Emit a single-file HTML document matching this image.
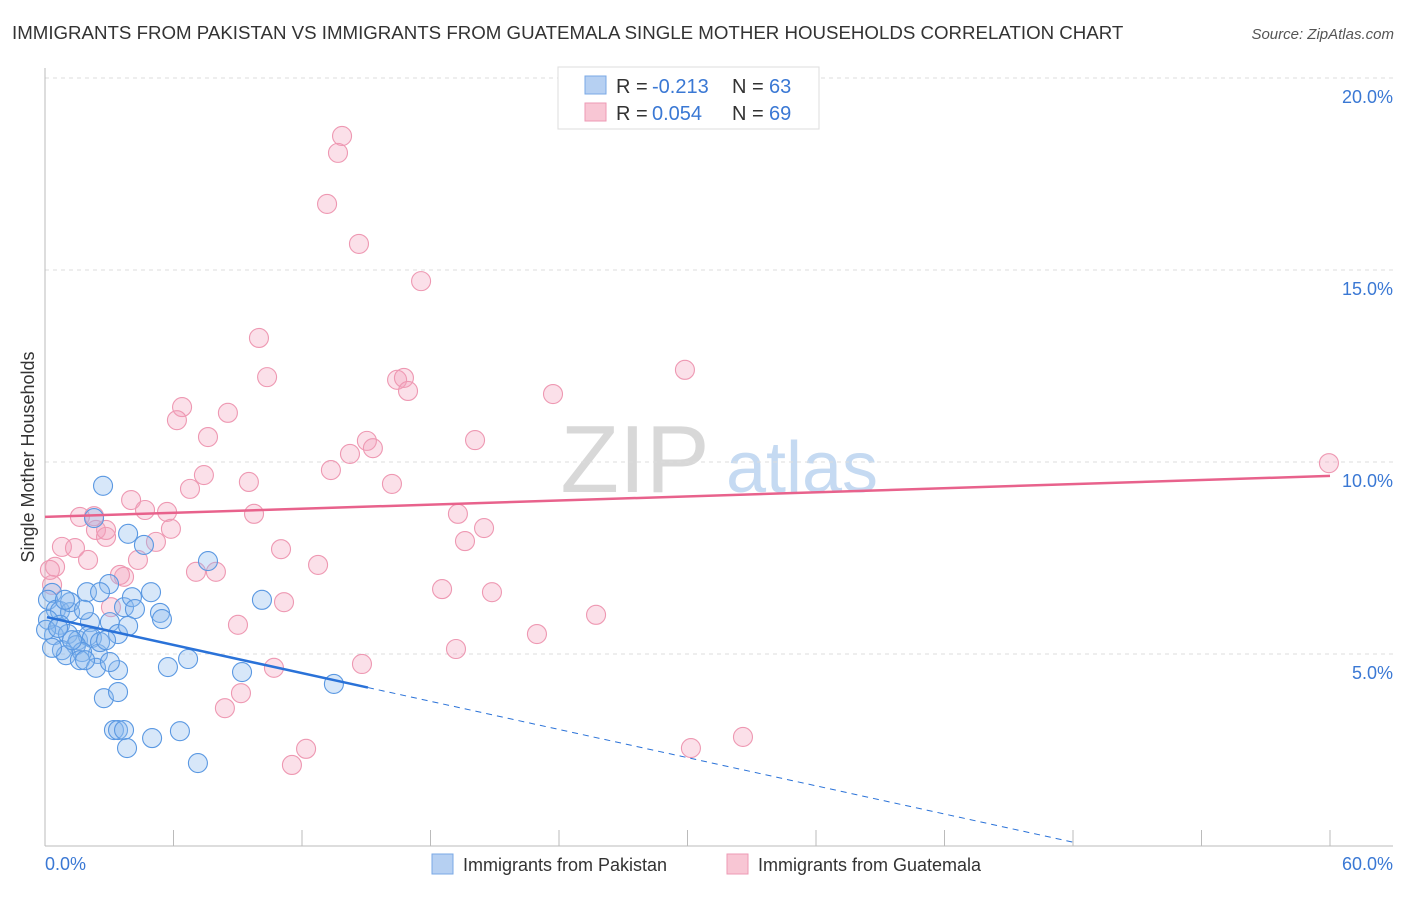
<!DOCTYPE html>
<html><head><meta charset="utf-8"><style>
body{margin:0;background:#fff;font-family:"Liberation Sans",sans-serif;}
svg text{font-family:"Liberation Sans",sans-serif;}
</style></head><body>
<svg id="chart" width="1406" height="892" viewBox="0 0 1406 892" xmlns="http://www.w3.org/2000/svg">
<text x="12" y="39" font-size="18.7" fill="#333">IMMIGRANTS FROM PAKISTAN VS IMMIGRANTS FROM GUATEMALA SINGLE MOTHER HOUSEHOLDS CORRELATION CHART</text>
<text x="1394" y="39" font-size="15" fill="#555" text-anchor="end" font-style="italic">Source: ZipAtlas.com</text>
<g>
<text x="635" y="492" font-size="96" fill="#d8d8d8" font-family="Liberation Serif" text-anchor="middle">ZIP</text>
<text x="802" y="492" font-size="72" fill="#c5daf2" text-anchor="middle">atlas</text>
</g>
<g id="grid"></g>
<g id="axes"></g>
<g id="pts"></g>
<g id="lines"></g>
<text transform="translate(34,457) rotate(-90)" font-size="18" fill="#333" text-anchor="middle">Single Mother Households</text>
<g>
<rect x="558" y="67" width="261" height="62" fill="#fff" stroke="#ddd"/>
<rect x="585" y="76" width="21" height="18" fill="#b6d0f2" stroke="#7aa8e6"/>
<rect x="585" y="103" width="21" height="18" fill="#f8c6d4" stroke="#ee9ab4"/>
<text x="616" y="93" font-size="20" fill="#333">R =</text>
<text x="652" y="93" font-size="20" fill="#3a78d4">-0.213</text>
<text x="732" y="93" font-size="20" fill="#333">N =</text>
<text x="769" y="93" font-size="20" fill="#3a78d4">63</text>
<text x="616" y="120" font-size="20" fill="#333">R =</text>
<text x="652" y="120" font-size="20" fill="#3a78d4">0.054</text>
<text x="732" y="120" font-size="20" fill="#333">N =</text>
<text x="769" y="120" font-size="20" fill="#3a78d4">69</text>
</g>
<g>
<rect x="432" y="854" width="21" height="20" fill="#b6d0f2" stroke="#7aa8e6"/>
<text x="463" y="871" font-size="18" fill="#333">Immigrants from Pakistan</text>
<rect x="727" y="854" width="21" height="20" fill="#f8c6d4" stroke="#ee9ab4"/>
<text x="758" y="871" font-size="18" fill="#333">Immigrants from Guatemala</text>
</g>
</svg>
<script>
const pakX=[2.71,2.29,3.88,4.62,7.61,2.99,1.96,2.57,3.69,4.95,5.37,5.46,4.06,3.03,3.41,4.20,10.13,0.33,0.14,0.51,0.70,1.17,2.10,0.70,0.42,1.07,1.54,2.01,2.19,2.47,2.57,1.45,0.79,0.98,1.73,1.63,2.38,3.41,5.74,6.68,9.20,13.49,2.75,3.41,3.22,3.41,3.69,3.83,5.0,6.30,7.14,1.26,1.87,3.03,0.14,0.05,1.17,0.33,0.61,0.93,1.82,2.85,3.88];
const pakY=[9.38,8.54,8.13,7.84,7.42,6.82,6.61,6.61,6.22,6.61,6.07,5.91,6.48,5.83,5.52,6.17,6.41,6.59,6.41,6.15,6.12,6.09,5.83,5.76,5.49,5.52,5.36,5.47,5.42,5.0,5.31,5.23,5.10,4.97,5.05,4.84,4.64,4.58,4.66,4.87,4.53,4.22,3.85,4.01,3.02,3.02,3.02,2.55,2.81,2.99,2.16,5.36,4.84,4.79,5.89,5.63,6.35,5.16,5.68,6.41,6.15,5.36,5.73];
const guaX=[13.87,13.68,13.17,14.66,17.56,9.99,10.37,16.44,16.76,16.95,23.72,29.88,6.40,6.16,8.54,7.61,15.03,20.08,15.31,14.24,13.35,7.42,16.20,6.77,9.52,4.02,4.67,5.70,9.76,19.28,1.63,2.29,20.50,2.38,5.88,0.79,1.40,2.01,4.34,5.18,19.61,2.85,11.02,12.75,7.05,7.98,3.69,3.50,18.54,20.87,0.33,0.47,0.23,3.08,11.16,9.01,25.73,22.97,19.19,10.69,14.80,9.15,8.40,12.19,11.53,30.16,32.59,59.95,2.85];
const guaY=[18.49,18.05,16.72,15.68,14.71,13.23,12.21,12.14,12.19,11.85,11.77,12.40,11.43,11.09,11.28,10.65,10.55,10.57,10.36,10.21,9.79,9.66,9.43,9.30,9.48,9.01,8.75,8.70,8.65,8.65,8.57,8.59,8.28,8.23,8.26,7.79,7.76,7.45,7.45,7.92,7.94,8.05,7.73,7.32,7.14,7.14,7.01,7.06,6.69,6.61,6.80,7.27,7.19,6.22,6.35,5.76,6.02,5.52,5.13,4.64,4.74,3.98,3.59,2.53,2.11,2.55,2.84,9.97,8.23];
const trendPak=[5.97,-0.1223];
const trendGua=[8.57,0.0178];
const yTicks=[5,10,15,20];
const yTickLabels=["5.0%","10.0%","15.0%","20.0%"];
const xTicks=[0,6,12,18,24,30,36,42,48,54,60];
const xLabels=[[0,"0.0%"],[60,"60.0%"]];
const NS="http://www.w3.org/2000/svg";
const X0=45,X1=1330,YB=846,PY=38.4;
function sx(v){return X0+v*(X1-X0)/60;}
function sy(v){return YB-v*PY;}
function mk(tag,attrs,parent){const e=document.createElementNS(NS,tag);for(const k in attrs)e.setAttribute(k,attrs[k]);parent.appendChild(e);return e;}
const gridG=document.getElementById('grid'),axesG=document.getElementById('axes'),ptsG=document.getElementById('pts'),linesG=document.getElementById('lines');
yTicks.forEach((t,i)=>{
 const l=mk('line',{x1:X0,x2:1393,y1:sy(t),y2:sy(t),stroke:'#ddd','stroke-dasharray':'4,4'},gridG);
 
 
 const tx=mk('text',{x:1393,y:sy(t)+25,'font-size':18,fill:'#3a78d4','text-anchor':'end'},axesG);
 tx.textContent=yTickLabels[i];
 
 
});
const ya=mk('line',{x1:X0,x2:X0,y1:68,y2:YB,stroke:'#bbb'},axesG);


const xa=mk('line',{x1:X0,x2:1393,y1:YB,y2:YB,stroke:'#bbb'},axesG);


xTicks.forEach(t=>{
 const l=mk('line',{x1:sx(t),x2:sx(t),y1:830,y2:YB,stroke:'#bbb'},axesG);
 
 
});
xLabels.forEach(([v,s])=>{
 const tx=mk('text',{x:v===0?sx(v):1393,y:870,'font-size':18,fill:'#3a78d4','text-anchor':v===0?'start':'end'},axesG);
 tx.textContent=s;
 
 
});
guaX.forEach((x,i)=>{
 const c=mk('circle',{cx:sx(x),cy:sy(guaY[i]),r:9.5,fill:'rgba(244,160,186,0.32)',stroke:'#ee98b2','stroke-width':1.1},ptsG);
 
 
});
pakX.forEach((x,i)=>{
 const c=mk('circle',{cx:sx(x),cy:sy(pakY[i]),r:9.5,fill:'rgba(140,185,238,0.35)',stroke:'#5a98e2','stroke-width':1.1},ptsG);
 
 
});
const gl=mk('line',{x1:sx(0),y1:sy(trendGua[0]),x2:sx(60),y2:sy(trendGua[0]+trendGua[1]*60),stroke:'#e8628c','stroke-width':2.5},linesG);


const pe=15.08,pd=48.1;
const pl=mk('line',{x1:sx(0.09),y1:sy(trendPak[0]+trendPak[1]*0.09),x2:sx(pe),y2:sy(trendPak[0]+trendPak[1]*pe),stroke:'#2a72d8','stroke-width':2.5},linesG);


const pdl=mk('line',{x1:sx(pe),y1:sy(trendPak[0]+trendPak[1]*pe),x2:sx(pd),y2:sy(trendPak[0]+trendPak[1]*pd),stroke:'#2a72d8','stroke-width':1,'stroke-dasharray':'6,5'},linesG);


</script>
</body></html>
